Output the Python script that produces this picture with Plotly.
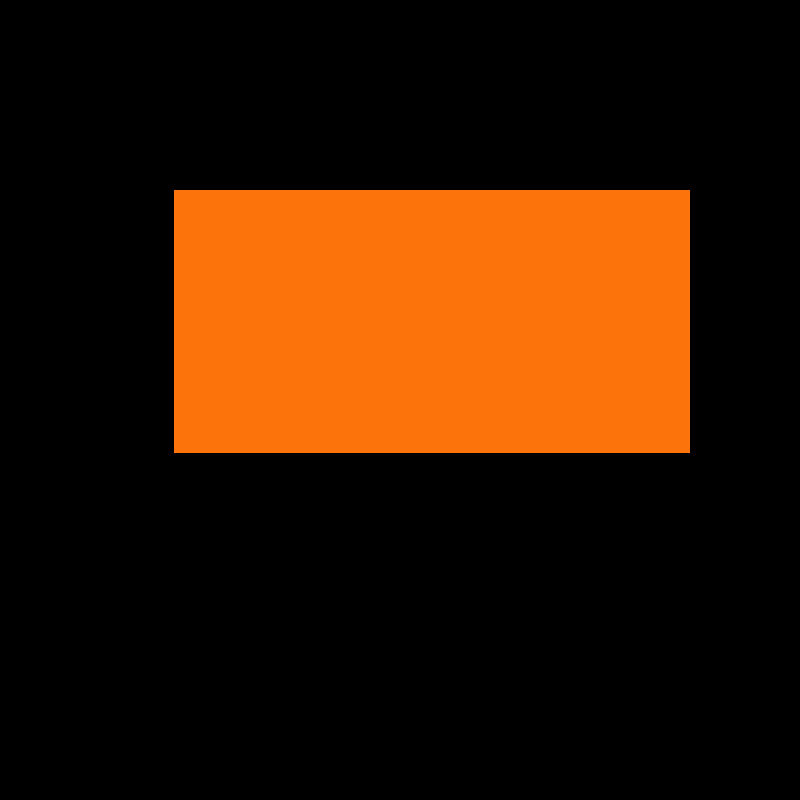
import plotly.graph_objects as go

categories = ["A"]
values = [1.0]

fig = go.Figure(data=[go.Bar(x=categories, y=values,
                             marker=dict(color="#FC730C", line=dict(width=0)),
                             showlegend=False, hoverinfo="skip")])

fig.update_layout(
    width=800, height=800,
    margin=dict(l=174, r=110, t=190, b=347),
    paper_bgcolor="black", plot_bgcolor="black",
    bargap=0,
)
fig.update_xaxes(visible=False)
fig.update_yaxes(visible=False, range=[0, 1])

# page has a default 8px white body margin; drop it so the black paper fills the window
fig.write_html("out.html",
               config={"displayModeBar": False},
               post_script="document.body.style.margin='0';document.body.style.background='black';")
